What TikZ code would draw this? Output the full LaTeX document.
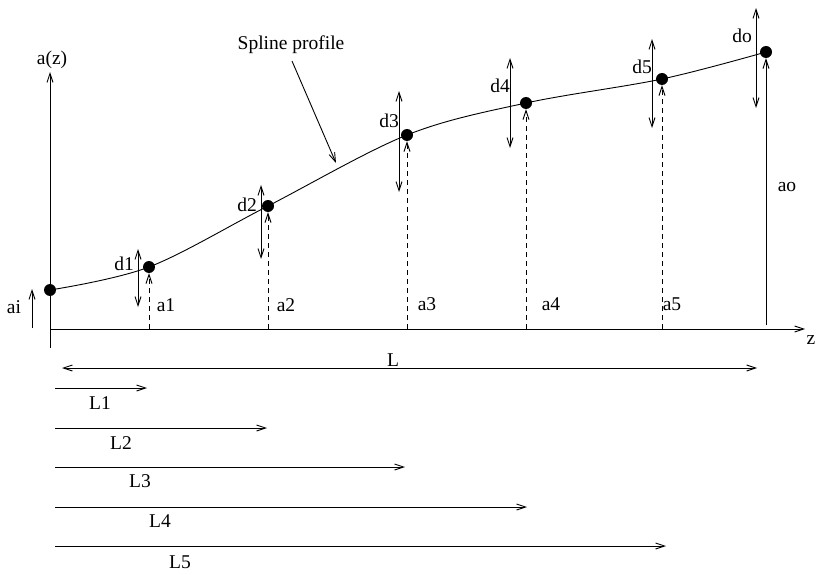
\documentclass[tikz,border=0pt]{standalone}
\usepackage{fontspec}
\setmainfont{Liberation Serif}
\usetikzlibrary{arrows.meta}
\begin{document}
\begin{tikzpicture}[x=1pt,y=-1pt,
  lw/.style={line width=0.9pt},
  tip/.style={-{Straight Barb[length=9pt,width=6pt]}},
  dbl/.style={{Straight Barb[length=9pt,width=6pt]}-{Straight Barb[length=9pt,width=6pt]}},
  dsh/.style={dash pattern=on 5pt off 4pt},
  dot/.style={circle,fill=black,inner sep=0pt,minimum size=12pt},
  lbl/.style={font=\fontsize{19.5}{22}\selectfont,inner sep=0pt}]
\useasboundingbox (0,0) rectangle (817,575);
% axes
\coordinate (ytop) at (50,72);
\coordinate (ybot) at (50,348);
\coordinate (zl) at (50,329);
\coordinate (zr) at (805,329);
\draw[lw,tip] (ybot) -- (ytop);
\draw[lw,tip] (zl) -- (zr);
\node[lbl] (az) at (52,60) {a(z)};
\node[lbl] (zlab) at (811,340) {z};
% points
\node[dot] (p0) at (50,290) {};
\node[dot] (p1) at (149,267) {};
\node[dot] (p2) at (268,206) {};
\node[dot] (p3) at (407,135) {};
\node[dot] (p4) at (526,103) {};
\node[dot] (p5) at (662,79) {};
\node[dot] (po) at (766,52) {};
\draw[lw] plot[smooth,tension=0.55] coordinates {(p0.center) (p1.center) (p2.center) (p3.center) (p4.center) (p5.center) (po.center)};
% ai
\coordinate (ai1) at (32,328);
\coordinate (ai2) at (32,289);
\draw[lw,tip] (ai1) -- (ai2);
\node[lbl] (ai) at (14,307) {ai};
% dashed a lines
\coordinate (b1) at (149,329);
\coordinate (b2) at (268,329);
\coordinate (b3) at (407,329);
\coordinate (b4) at (526,329);
\coordinate (b5) at (662,329);
\coordinate (bo) at (766,325);
\draw[lw,dsh,tip] (b1) -- (p1);
\draw[lw,dsh,tip] (b2) -- (p2);
\draw[lw,dsh,tip] (b3) -- (p3);
\draw[lw,dsh,tip] (b4) -- (p4);
\draw[lw,dsh,tip] (b5) -- (p5);
\draw[lw,tip] (bo) -- (po);
\node[lbl] (a1) at (166,305) {a1};
\node[lbl] (a2) at (286,305) {a2};
\node[lbl] (a3) at (427,304) {a3};
\node[lbl] (a4) at (551,304) {a4};
\node[lbl] (a5) at (672,304) {a5};
\node[lbl] (ao) at (787,187) {ao};
% d arrows
\coordinate (d1t) at (138,249); \coordinate (d1b) at (138,307);
\coordinate (d2t) at (261,185); \coordinate (d2b) at (261,259);
\coordinate (d3t) at (399,91);  \coordinate (d3b) at (399,192);
\coordinate (d4t) at (510,58);  \coordinate (d4b) at (510,148);
\coordinate (d5t) at (652,39);  \coordinate (d5b) at (652,128);
\coordinate (dot_t) at (756,8); \coordinate (dot_b) at (756,108);
\draw[lw,dbl] (d1t) -- (d1b);
\draw[lw,dbl] (d2t) -- (d2b);
\draw[lw,dbl] (d3t) -- (d3b);
\draw[lw,dbl] (d4t) -- (d4b);
\draw[lw,dbl] (d5t) -- (d5b);
\draw[lw,dbl] (dot_t) -- (dot_b);
\node[lbl] (d1) at (124,264) {d1};
\node[lbl] (d2) at (247,205) {d2};
\node[lbl] (d3) at (389,121) {d3};
\node[lbl] (d4) at (500,86) {d4};
\node[lbl] (d5) at (642,67) {d5};
\node[lbl] (do) at (742,36) {do};
% spline label
\node[lbl] (sp) at (291,45) {Spline profile};
\coordinate (spe) at (336,163);
\draw[lw,tip] (292,61) -- (spe);
% L arrows
\coordinate (La) at (62,368); \coordinate (Lb) at (757,368);
\draw[lw,dbl] (La) -- (Lb);
\node[lbl] (L) at (393,360) {L};
\coordinate (s1) at (55,388);  \coordinate (e1) at (147,388);
\coordinate (s2) at (55,428);  \coordinate (e2) at (267,428);
\coordinate (s3) at (55,467);  \coordinate (e3) at (405,467);
\coordinate (s4) at (55,507);  \coordinate (e4) at (527,507);
\coordinate (s5) at (55,546);  \coordinate (e5) at (666,546);
\draw[lw,tip] (s1) -- (e1);
\draw[lw,tip] (s2) -- (e2);
\draw[lw,tip] (s3) -- (e3);
\draw[lw,tip] (s4) -- (e4);
\draw[lw,tip] (s5) -- (e5);
\node[lbl] (L1) at (100,403) {L1};
\node[lbl] (L2) at (121,443) {L2};
\node[lbl] (L3) at (140,481) {L3};
\node[lbl] (L4) at (160,521) {L4};
\node[lbl] (L5) at (180,562) {L5};
\end{tikzpicture}
\end{document}
